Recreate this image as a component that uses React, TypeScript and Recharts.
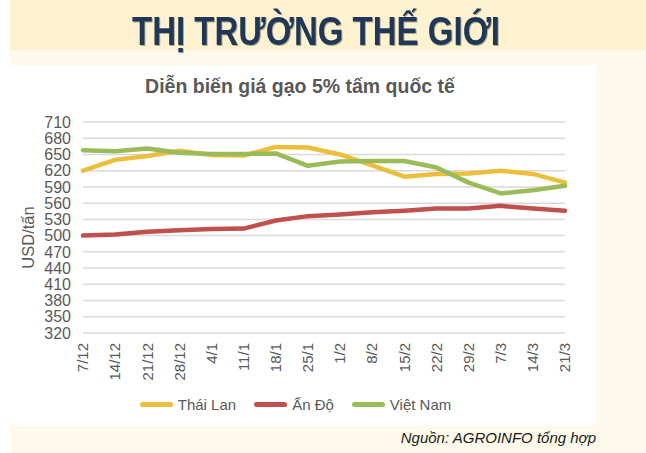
import React from "react";
import {
  LineChart, Line, XAxis, YAxis, CartesianGrid, Legend,
} from "recharts";

// ── dữ liệu ─────────────────────────────────────────────────
const weeks = [
  "7/12", "14/12", "21/12", "28/12", "4/1", "11/1", "18/1", "25/1",
  "1/2", "8/2", "15/2", "22/2", "29/2", "7/3", "14/3", "21/3",
];
const thaiLan = [620, 640, 647, 657, 649, 648, 664, 663, 650, 630, 609, 614, 615, 620, 614, 598];
const anDo = [500, 502, 507, 510, 512, 513, 528, 536, 539, 543, 546, 550, 550, 555, 550, 546];
const vietNam = [658, 656, 661, 653, 651, 651, 652, 629, 637, 638, 638, 626, 598, 578, 584, 592];
const yTicks = [320, 350, 380, 410, 440, 470, 500, 530, 560, 590, 620, 650, 680, 710];

const series = [
  { key: "thai", name: "Thái Lan", color: "#EBBF3C" },
  { key: "an", name: "Ấn Độ", color: "#C0504D" },
  { key: "vn", name: "Việt Nam", color: "#9BBB59" },
];

const data = weeks.map((w, i) => ({ w, thai: thaiLan[i], an: anDo[i], vn: vietNam[i] }));

const font = "'Liberation Sans', Arial, sans-serif";
const grey = "#595959";

const XTick = ({ x, y, payload }: any) => (
  <text
    x={x} y={y + 2}
    transform={`rotate(-90 ${x} ${y + 2})`}
    textAnchor="end" dy="0.35em"
    fontSize={15} fill={grey} fontFamily={font}
  >
    {payload.value}
  </text>
);

const LegendBox = () => (
  <div style={{ display: "flex", justifyContent: "center", fontFamily: font, fontSize: 15, color: grey, paddingTop: 5, paddingLeft: 16 }}>
    {series.map(s => (
      <div key={s.key} style={{ display: "flex", alignItems: "center", margin: "0 9px" }}>
        <span style={{ width: 33, height: 5, borderRadius: 3, background: s.color, marginRight: 5 }} />
        {s.name}
      </div>
    ))}
  </div>
);

export default function App() {
  return (
    <div style={{ position: "absolute", left: 0, top: 0, width: 646, height: 453, background: "#fff", overflow: "hidden" }}>
      <div style={{ position: "absolute", left: 10, top: 0, width: 636, height: 51, background: "#FEF2D0" }} />
      <div style={{ position: "absolute", left: 10, top: 51, width: 636, height: 402, background: "#FEFAEB" }} />
      <svg width={646} height={62} style={{ position: "absolute", left: 0, top: 0 }}>
        <text
          x={132} y={45} textLength={368} lengthAdjust="spacingAndGlyphs"
          fontFamily={font} fontWeight={700} fontSize={41} fill="#1F3858"
          style={{ filter: "drop-shadow(1px 1px 0.6px rgba(0,0,0,0.3))" }}
        >
          THỊ TRƯỜNG THẾ GIỚI
        </text>
      </svg>
      <div style={{ position: "absolute", left: 10, top: 65, width: 586, height: 360, background: "#fff" }}>
        <div style={{
          position: "absolute", left: 0, top: 10, width: 580, textAlign: "center",
          fontFamily: font, fontWeight: 700, fontSize: 19.5, color: grey,
        }}>
          Diễn biến giá gạo 5% tấm quốc tế
        </div>
        <LineChart width={586} height={360} data={data} margin={{ top: 57, right: 31, left: 0, bottom: 0 }}>
          <CartesianGrid horizontal vertical={false} stroke="#D9D9D9" strokeWidth={1.5} />
          <XAxis
            dataKey="w" interval={0} tick={<XTick />} height={58}
            axisLine={false} tickLine={false}
          />
          <YAxis
            domain={[320, 710]} ticks={yTicks} interval={0} width={73}
            axisLine={false} tickLine={false}
            tick={{ fontSize: 16, fill: grey, fontFamily: font }}
            tickMargin={6}
            label={({ viewBox }: any) => (
              <text
                x={viewBox.x + 18} y={viewBox.y + viewBox.height / 2 + 10}
                transform={`rotate(-90 ${viewBox.x + 18} ${viewBox.y + viewBox.height / 2 + 10})`}
                textAnchor="middle" dy="0.35em"
                fontSize={16.5} fill={grey} fontFamily={font}
              >
                USD/tấn
              </text>
            )}
          />
          <Legend verticalAlign="bottom" height={34} content={<LegendBox />} />
          {series.map(s => (
            <Line
              key={s.key} type="linear" dataKey={s.key} name={s.name}
              stroke={s.color} strokeWidth={4.5} dot={false}
              strokeLinecap="round" strokeLinejoin="round"
              isAnimationActive={false}
            />
          ))}
        </LineChart>
      </div>
      <div style={{
        position: "absolute", right: 50, top: 429,
        fontFamily: font, fontStyle: "italic", fontSize: 15, color: "#1a1a1a",
      }}>
        Nguồn: AGROINFO tổng hợp
      </div>
    </div>
  );
}
